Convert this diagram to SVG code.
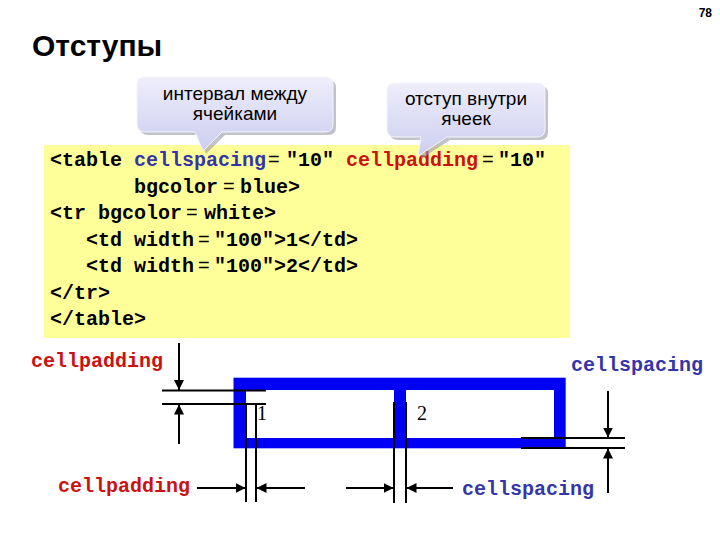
<svg xmlns="http://www.w3.org/2000/svg" width="720" height="540" viewBox="0 0 720 540">
<defs>
<linearGradient id="cg" x1="0" y1="0" x2="0" y2="1">
<stop offset="0" stop-color="#eeeefb"/>
<stop offset="1" stop-color="#cdcdf0"/>
</linearGradient>
<marker id="ah" viewBox="0 0 10 10" refX="10" refY="5" markerWidth="10" markerHeight="10" markerUnits="userSpaceOnUse" orient="auto">
<path d="M0,0 L10,5 L0,10 Z" fill="#000"/>
</marker>
<style>
.code{font-family:"Liberation Mono","Courier New",monospace;font-weight:bold;font-size:20px;fill:#000}
.eq{font-family:"Liberation Sans",Arial,sans-serif;font-size:20px;fill:#000}
.blue{fill:#3535aa}
.red{fill:#cc1111}
.lbl{font-family:"Liberation Mono","Courier New",monospace;font-weight:bold;font-size:20px}
.call{font-family:"Liberation Sans",Arial,sans-serif;font-size:19px;fill:#000;text-anchor:middle}
.ln{stroke:#000;stroke-width:2;fill:none}
.arr{stroke:#000;stroke-width:2;fill:none;marker-end:url(#ah)}
.num{font-family:"Liberation Serif","Times New Roman",serif;font-size:20px;fill:#000}
</style>
</defs>
<rect width="720" height="540" fill="#fff"/>
<text x="712" y="17" text-anchor="end" font-family="Liberation Sans, Arial, sans-serif" font-weight="bold" font-size="12">78</text>
<text id="title" x="32" y="56" font-family="Liberation Sans, Arial, sans-serif" font-weight="bold" font-size="30">Отступы</text>

<g id="code">
<rect x="44" y="145" width="526" height="193" fill="#ffff99"/>
<text class="code" x="50" y="166">&lt;table</text>
<text class="code blue" x="134" y="166">cellspacing</text>
<text class="eq" x="268" y="166">=</text>
<text class="code" x="286" y="166">"10"</text>
<text class="code red" x="346" y="166">cellpadding</text>
<text class="eq" x="482" y="166">=</text>
<text class="code" x="498" y="166">"10"</text>
<text class="code" x="134" y="192.5">bgcolor</text>
<text class="eq" x="223" y="192.5">=</text>
<text class="code" x="240" y="192.5">blue&gt;</text>
<text class="code" x="50" y="219">&lt;tr bgcolor</text>
<text class="eq" x="186" y="219">=</text>
<text class="code" x="204" y="219">white&gt;</text>
<text class="code" x="86" y="245.5">&lt;td width</text>
<text class="eq" x="198" y="245.5">=</text>
<text class="code" x="214" y="245.5">"100"&gt;1&lt;/td&gt;</text>
<text class="code" x="86" y="272">&lt;td width</text>
<text class="eq" x="198" y="272">=</text>
<text class="code" x="214" y="272">"100"&gt;2&lt;/td&gt;</text>
<text class="code" x="50" y="298.5">&lt;/tr&gt;</text>
<text class="code" x="50" y="325">&lt;/table&gt;</text>
</g>

<g id="callout-spacing">
<path d="M145,77 H325 Q333,77 333,85 V124 Q333,132 325,132 H222 L203,151 L195,132 H145 Q137,132 137,124 V85 Q137,77 145,77 Z" fill="#9a9aa8" opacity="0.6" transform="translate(3,3)"/>
<path d="M145,77 H325 Q333,77 333,85 V124 Q333,132 325,132 H222 L203,151 L195,132 H145 Q137,132 137,124 V85 Q137,77 145,77 Z" fill="url(#cg)" stroke="#f4f4fc" stroke-width="1"/>
<text class="call" x="235" y="100">интервал между</text>
<text class="call" x="235" y="120">ячейками</text>
</g>

<g id="callout-padding">
<path d="M395,83 H537 Q545,83 545,91 V129 Q545,137 537,137 H447 L418,156 L421,137 H395 Q387,137 387,129 V91 Q387,83 395,83 Z" fill="#9a9aa8" opacity="0.6" transform="translate(3,3)"/>
<path d="M395,83 H537 Q545,83 545,91 V129 Q545,137 537,137 H447 L418,156 L421,137 H395 Q387,137 387,129 V91 Q387,83 395,83 Z" fill="url(#cg)" stroke="#f4f4fc" stroke-width="1"/>
<text class="call" x="466" y="105">отступ внутри</text>
<text class="call" x="466" y="125">ячеек</text>
</g>

<g id="table">
<rect x="233.5" y="377.7" width="332.2" height="70.6" fill="#0000f5"/>
<rect x="246" y="390" width="148" height="48" fill="#fff"/>
<rect x="406" y="390" width="148" height="48" fill="#fff"/>
<text class="num" x="257" y="420">1</text>
<text class="num" x="417" y="420">2</text>
</g>

<g id="connectors">
<line class="ln" x1="162" y1="390.5" x2="266" y2="390.5"/>
<line class="ln" x1="162" y1="404" x2="266" y2="404"/>
<line class="arr" x1="179" y1="343" x2="179" y2="390"/>
<line class="arr" x1="179" y1="444" x2="179" y2="404.5"/>
<line class="ln" x1="246" y1="404" x2="246" y2="502"/>
<line class="ln" x1="256" y1="404" x2="256" y2="502"/>
<line class="arr" x1="197" y1="488" x2="245.5" y2="488"/>
<line class="arr" x1="305" y1="488" x2="256.5" y2="488"/>
<line class="ln" x1="394" y1="402" x2="394" y2="503"/>
<line class="ln" x1="406" y1="402" x2="406" y2="503"/>
<line class="arr" x1="346" y1="488" x2="393.5" y2="488"/>
<line class="arr" x1="453" y1="488" x2="406.5" y2="488"/>
<line class="ln" x1="521" y1="438" x2="625" y2="438"/>
<line class="ln" x1="521" y1="448" x2="625" y2="448"/>
<line class="arr" x1="608" y1="391" x2="608" y2="437.5"/>
<line class="arr" x1="608" y1="493" x2="608" y2="448.5"/>
</g>

<g id="labels">
<text class="lbl red" x="31" y="367">cellpadding</text>
<text class="lbl red" x="58" y="492">cellpadding</text>
<text class="lbl blue" x="571" y="371">cellspacing</text>
<text class="lbl blue" x="462" y="495">cellspacing</text>
</g>
</svg>
